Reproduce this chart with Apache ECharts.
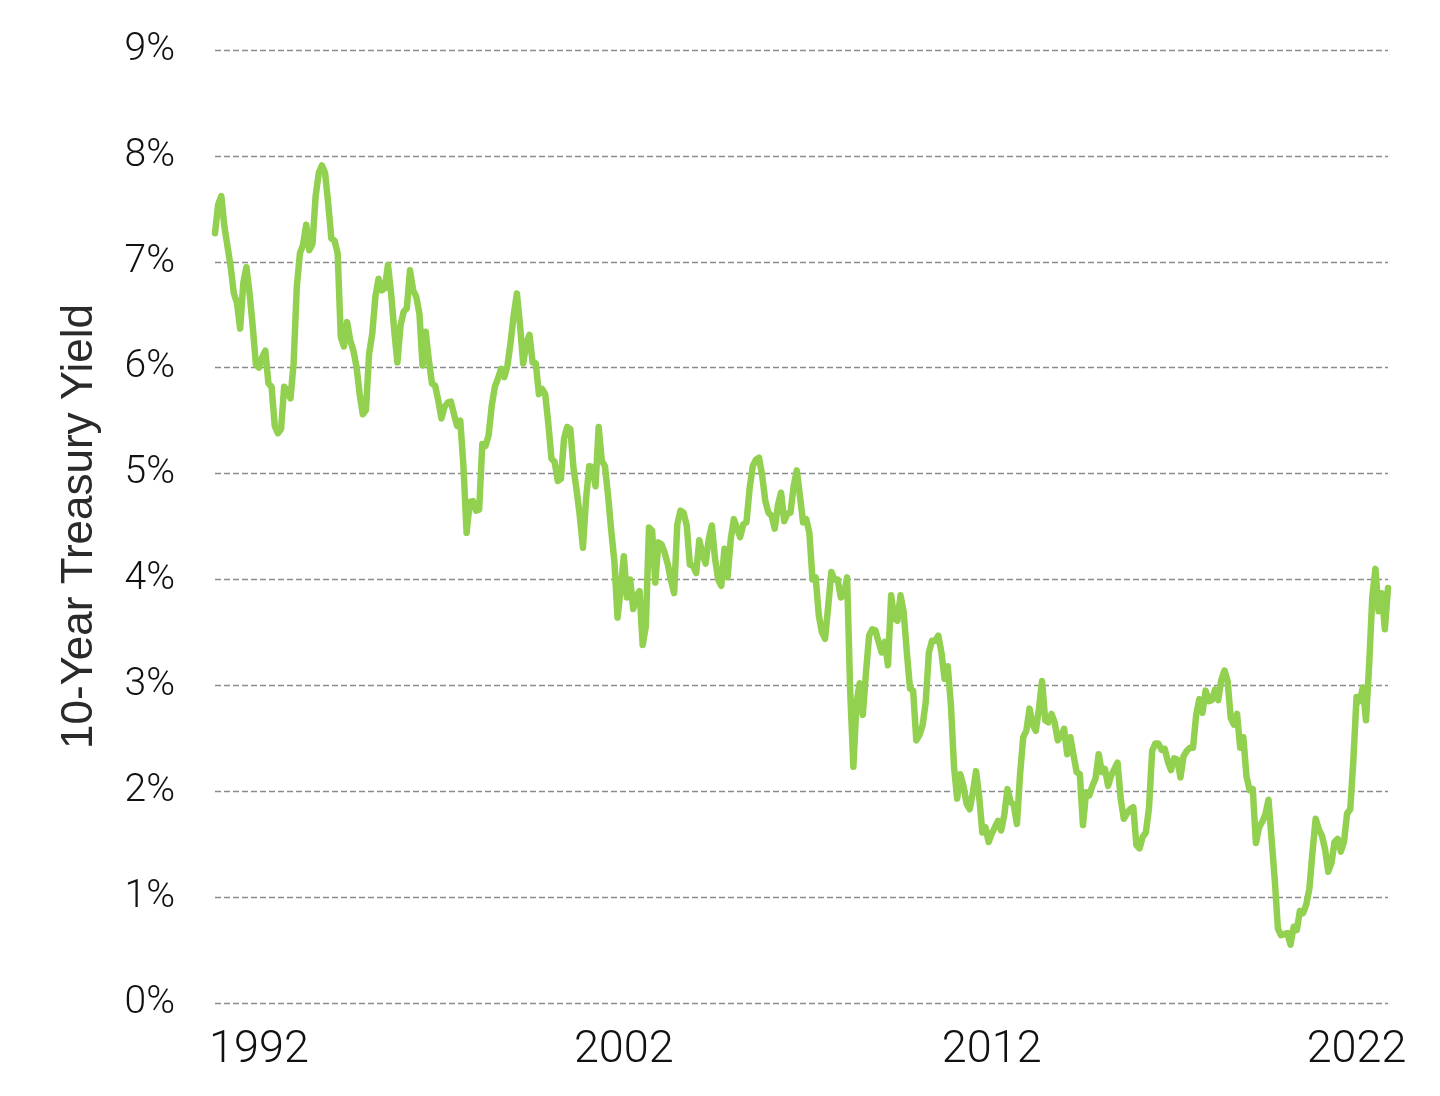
<!DOCTYPE html>
<html>
<head>
<meta charset="utf-8">
<title>10-Year Treasury Yield</title>
<script src="https://cdn.jsdelivr.net/npm/echarts/dist/echarts.min.js"></script>
<style>
    html, body { margin: 0; padding: 0; background: #fff; }
    #chart { width: 1440px; height: 1096px; }
</style>
</head>
<body>
<div id="chart"></div>
<script>
// month-end 10-year yield, %, Jan 1992 .. Feb 2023
var yields1990s = [
    7.27, 7.54, 7.62, 7.33, 7.14, 6.95, 6.70, 6.61, 6.37, 6.80, 6.95, 6.70, // 1992
    6.39, 6.03, 6.00, 6.10, 6.16, 5.85, 5.82, 5.45, 5.38, 5.42, 5.82, 5.78, // 1993
    5.71, 6.04, 6.76, 7.08, 7.16, 7.35, 7.11, 7.17, 7.62, 7.84, 7.91, 7.84, // 1994
    7.55, 7.22, 7.20, 7.08, 6.29, 6.20, 6.43, 6.26, 6.16, 6.01, 5.75, 5.56, // 1995
    5.60, 6.13, 6.32, 6.67, 6.84, 6.73, 6.75, 6.97, 6.70, 6.35, 6.05, 6.40, // 1996
    6.53, 6.56, 6.92, 6.73, 6.67, 6.51, 6.02, 6.34, 6.07, 5.85, 5.83, 5.69, // 1997
    5.52, 5.63, 5.67, 5.68, 5.56, 5.45, 5.50, 5.07, 4.44, 4.73, 4.74, 4.65, // 1998
    4.66, 5.28, 5.26, 5.36, 5.64, 5.82, 5.90, 5.99, 5.91, 6.02, 6.24, 6.50  // 1999
];
var yields2000s = [
    6.70, 6.40, 6.04, 6.23, 6.31, 6.05, 6.04, 5.75, 5.80, 5.75, 5.47, 5.14, // 2000
    5.11, 4.93, 4.95, 5.33, 5.44, 5.42, 5.05, 4.84, 4.60, 4.30, 4.76, 5.07, // 2001
    5.06, 4.88, 5.44, 5.12, 5.07, 4.79, 4.46, 4.17, 3.64, 3.91, 4.22, 3.83, // 2002
    4.00, 3.72, 3.85, 3.89, 3.38, 3.56, 4.49, 4.46, 3.97, 4.35, 4.33, 4.25, // 2003
    4.14, 3.99, 3.87, 4.52, 4.65, 4.63, 4.51, 4.14, 4.13, 4.06, 4.37, 4.24, // 2004
    4.15, 4.38, 4.51, 4.20, 4.00, 3.94, 4.29, 4.02, 4.38, 4.57, 4.48, 4.40, // 2005
    4.52, 4.54, 4.86, 5.07, 5.13, 5.15, 4.98, 4.74, 4.63, 4.60, 4.48, 4.70, // 2006
    4.82, 4.55, 4.62, 4.63, 4.88, 5.03, 4.79, 4.54, 4.57, 4.44, 4.00, 4.02, // 2007
    3.66, 3.50, 3.44, 3.75, 4.07, 4.00, 4.00, 3.83, 3.85, 4.02, 2.93, 2.23, // 2008
    2.84, 3.02, 2.72, 3.12, 3.47, 3.53, 3.52, 3.41, 3.31, 3.41, 3.19, 3.85  // 2009
];
var yields2010s = [
    3.63, 3.61, 3.85, 3.69, 3.31, 2.97, 2.95, 2.48, 2.53, 2.62, 2.84, 3.31, // 2010
    3.42, 3.42, 3.47, 3.31, 3.06, 3.18, 2.82, 2.23, 1.93, 2.16, 2.05, 1.88, // 2011
    1.83, 1.99, 2.19, 1.95, 1.61, 1.66, 1.52, 1.60, 1.66, 1.72, 1.63, 1.78, // 2012
    2.02, 1.90, 1.87, 1.69, 2.16, 2.51, 2.57, 2.78, 2.63, 2.57, 2.78, 3.04, // 2013
    2.67, 2.65, 2.73, 2.65, 2.48, 2.52, 2.59, 2.35, 2.51, 2.34, 2.18, 2.16, // 2014
    1.68, 1.99, 1.96, 2.05, 2.12, 2.35, 2.18, 2.21, 2.05, 2.15, 2.21, 2.27, // 2015
    1.93, 1.74, 1.79, 1.83, 1.85, 1.49, 1.46, 1.57, 1.61, 1.84, 2.38, 2.45, // 2016
    2.45, 2.39, 2.40, 2.28, 2.20, 2.31, 2.30, 2.13, 2.33, 2.38, 2.41, 2.41, // 2017
    2.72, 2.87, 2.74, 2.95, 2.85, 2.86, 2.96, 2.86, 3.05, 3.14, 3.04, 2.69, // 2018
    2.63, 2.73, 2.41, 2.51, 2.14, 2.01, 2.02, 1.51, 1.66, 1.71, 1.78, 1.92  // 2019
];
var yields2020s = [
    1.54, 1.16, 0.70, 0.64, 0.65, 0.66, 0.55, 0.72, 0.69, 0.87, 0.85, 0.93, // 2020
    1.08, 1.43, 1.74, 1.64, 1.58, 1.45, 1.24, 1.32, 1.52, 1.55, 1.43, 1.52, // 2021
    1.79, 1.83, 2.30, 2.89, 2.85, 2.98, 2.67, 3.19, 3.83, 4.10, 3.70, 3.87, // 2022
    3.53, 3.92                                                              // 2023
];

// year labels and the month each one sits under
var xTickLabels = ['1992', '2002', '2012', '2022'];
var xTickMonths = ['1993-03', '2002-11', '2012-08', '2022-04'];

var yields = yields1990s.concat(yields2000s, yields2010s, yields2020s);

// categories: one per month starting Jan 1992
var months = [];
for (var i = 0; i < yields.length; i++) {
    var yr = 1992 + Math.floor(i / 12);
    var mo = (i % 12) + 1;
    months.push(yr + '-' + (mo < 10 ? '0' + mo : mo));
}

var chart = echarts.init(document.getElementById('chart'));

var option = {
    animation: false,
    backgroundColor: '#ffffff',
    grid: {
        left: 215,
        right: 52,
        top: 50,
        bottom: 93
    },
    xAxis: {
        type: 'category',
        data: months,
        boundaryGap: false,
        axisLine: { show: false },
        axisTick: { show: false },
        splitLine: { show: false },
        axisLabel: {
            interval: function (index, value) {
                return xTickMonths.indexOf(value) >= 0;
            },
            formatter: function (value) {
                var k = xTickMonths.indexOf(value);
                return k >= 0 ? xTickLabels[k] : '';
            },
            margin: 25,
            color: '#111111',
            fontFamily: 'Roboto',
            fontWeight: 300,
            fontSize: 45
        }
    },
    yAxis: {
        type: 'value',
        min: 0,
        max: 9,
        interval: 1,
        name: '10-Year Treasury Yield',
        nameLocation: 'middle',
        nameRotate: 90,
        nameGap: 113,
        nameTextStyle: {
            color: '#2a2a2a',
            fontFamily: 'Liberation Sans',
            fontSize: 44
        },
        axisLine: { show: false },
        axisTick: { show: false },
        axisLabel: {
            formatter: '{value}%',
            margin: 40,
            color: '#111111',
            fontFamily: 'Roboto',
            fontWeight: 300,
            fontSize: 39
        },
        splitLine: {
            show: true,
            lineStyle: {
                color: '#8c8c8c',
                width: 1.4,
                type: [6, 3]
            }
        }
    },
    series: [{
        name: '10-Year Treasury Yield',
        type: 'line',
        data: yields,
        symbol: 'none',
        smooth: false,
        lineStyle: {
            color: '#92d050',
            width: 6.5,
            join: 'round',
            cap: 'round'
        }
    }]
};

chart.setOption(option);
</script>
</body>
</html>
